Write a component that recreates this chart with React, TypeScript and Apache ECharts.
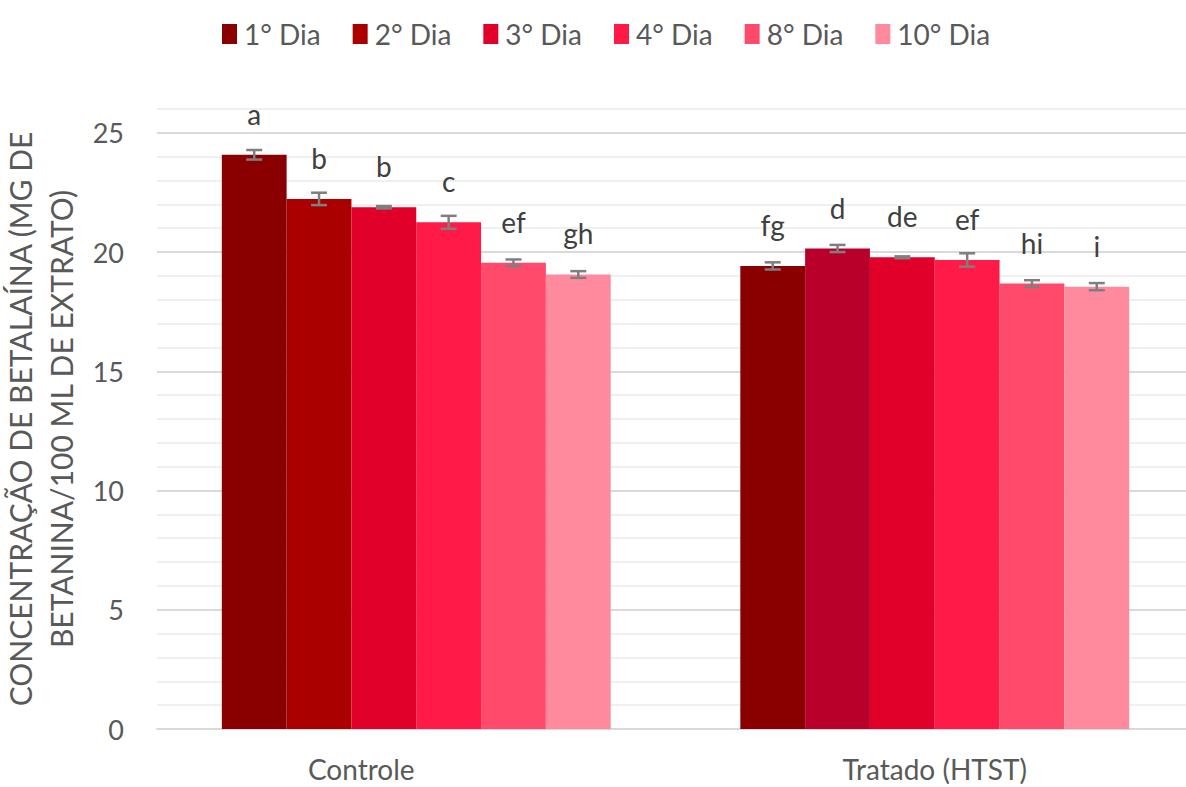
import React, { useEffect, useRef } from "react";
import * as echarts from "echarts";

const categories = ["Controle", "Tratado (HTST)"];
const seriesNames = ["1° Dia", "2° Dia", "3° Dia", "4° Dia", "8° Dia", "10° Dia"];
const seriesColors = ["#8A0000", "#AA0000", "#E0002A", "#FF1A47", "#FF4A6C", "#FF8A9E"];
// per-category colour overrides (Tratado 2° Dia is a different shade)
const tratadoColors = ["#8A0000", "#B8002A", "#E0002A", "#FF1A47", "#FF4A6C", "#FF8A9E"];
const controleValues = [24.08, 22.23, 21.88, 21.25, 19.55, 19.06];
const tratadoValues = [19.42, 20.15, 19.78, 19.67, 18.68, 18.55];
const controleErrors = [0.2, 0.26, 0.05, 0.27, 0.14, 0.14];
const tratadoErrors = [0.15, 0.15, 0.04, 0.28, 0.14, 0.15];
const controleLetters = ["a", "b", "b", "c", "ef", "gh"];
const tratadoLetters = ["fg", "d", "de", "ef", "hi", "i"];
const yTickLabels = [0, 5, 10, 15, 20, 25];

const FONT = "Lato, 'Open Sans', sans-serif";
const CAT_GAP = 0.25;

export default function App() {
  const ref = useRef<HTMLDivElement>(null);
  useEffect(() => {
    if (!ref.current) return;
    const chart = echarts.init(ref.current, null, { renderer: "svg" });
    const nS = seriesNames.length;
    const barSeries: any[] = seriesNames.map((name, i) => ({
      name,
      type: "bar",
      barGap: "0%",
      barCategoryGap: CAT_GAP * 100 + "%",
      itemStyle: { color: seriesColors[i] },
      data: [
        { value: controleValues[i], itemStyle: { color: seriesColors[i] }, label: { formatter: controleLetters[i] } },
        { value: tratadoValues[i], itemStyle: { color: tratadoColors[i] }, label: { formatter: tratadoLetters[i] } },
      ],
      label: {
        show: true,
        position: "top",
        distance: 27,
        fontFamily: FONT,
        fontSize: 28,
        color: "#404040",
      },
    }));
    const errSeries: any[] = seriesNames.map((name, i) => ({
      name: name + "_err",
      type: "custom",
      z: 10,
      silent: true,
      data: [
        [0, controleValues[i], controleErrors[i]],
        [1, tratadoValues[i], tratadoErrors[i]],
      ],
      renderItem: (params: any, api: any) => {
        const x = api.value(0);
        const v = api.value(1);
        const e = api.value(2);
        const band = api.size([1, 0])[0];
        const bw = (band * (1 - CAT_GAP)) / nS;
        const c = api.coord([x, v]);
        const cx = c[0] + (i - (nS - 1) / 2) * bw;
        const hi = api.coord([x, v + e])[1];
        const lo = api.coord([x, v - e])[1];
        const hw = 8;
        const style = { stroke: "#7F7F7F", lineWidth: 2.5 };
        return {
          type: "group",
          children: [
            { type: "line", shape: { x1: cx, y1: hi, x2: cx, y2: lo }, style },
            { type: "line", shape: { x1: cx - hw, y1: hi, x2: cx + hw, y2: hi }, style },
            { type: "line", shape: { x1: cx - hw, y1: lo, x2: cx + hw, y2: lo }, style },
          ],
        };
      },
    }));
    chart.setOption({
      animation: false,
      textStyle: { fontFamily: FONT },
      legend: {
        data: seriesNames.map((n, i) => ({ name: n, itemStyle: { color: seriesColors[i] } })),
        top: 15,
        left: 217,
        icon: "rect",
        itemWidth: 15,
        itemHeight: 20,
        itemGap: 32,
        textStyle: { fontFamily: FONT, fontSize: 28, color: "#595959", padding: [0, 0, 0, 2] },
      },
      grid: { left: 157, right: -8, top: 109, bottom: 58, containLabel: false, outerBoundsMode: "none" },
      xAxis: {
        type: "category",
        data: categories,
        axisTick: { show: false },
        axisLine: { lineStyle: { color: "#D9D9D9", width: 2 } },
        axisLabel: {
          fontFamily: FONT,
          fontSize: 28,
          color: "#595959",
          margin: 26,
          formatter: (v: string) => (v === categories[0] ? "{off|" + v + "}" : v),
          rich: {
            off: { fontFamily: FONT, fontSize: 28, color: "#595959", padding: [0, 110, 0, 0] },
          },
        },
      },
      yAxis: {
        type: "value",
        min: 0,
        max: 26,
        interval: 1,
        axisLine: { show: false },
        axisTick: { show: false },
        axisLabel: {
          fontFamily: FONT,
          fontSize: 27,
          color: "#595959",
          margin: 33,
          formatter: (v: number) => (yTickLabels.indexOf(v) >= 0 ? String(v) : ""),
        },
        splitLine: {
          lineStyle: { color: ["#D9D9D9", "#F0F0F0", "#F0F0F0", "#F0F0F0", "#F0F0F0"], width: 2 },
        },
        name: "CONCENTRAÇÃO DE BETALAÍNA (MG DE\nBETANINA/100 ML DE EXTRATO)",
        nameLocation: "middle",
        nameGap: 69,
        nameTextStyle: { fontFamily: FONT, fontSize: 30, color: "#595959", lineHeight: 41 },
      },
      series: [...barSeries, ...errSeries],
    });
    return () => chart.dispose();
  }, []);
  return <div ref={ref} style={{ width: 1186, height: 787, position: "absolute", left: 0, top: 0 }} />;
}
